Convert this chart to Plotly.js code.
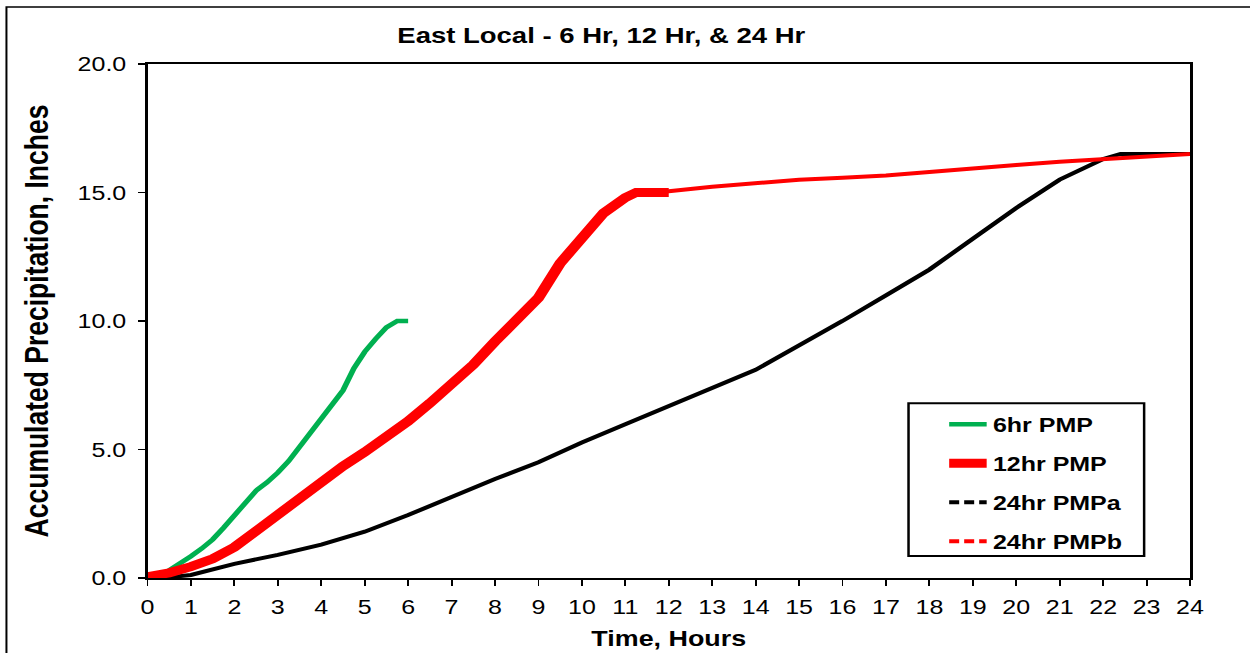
<!DOCTYPE html>
<html>
<head>
<meta charset="utf-8">
<script src="https://cdn.plot.ly/plotly-3.0.1.min.js"></script>
<style>
  html, body { margin: 0; padding: 0; background: #fff; overflow: hidden; }
  #chart { width: 1000px; height: 653px; transform: scaleX(1.25); transform-origin: 0 0; }
</style>
</head>
<body>
<div id="chart"></div>
<script>
// ---- Data ----
const hours6hr = [0,0.25,0.5,0.75,1,1.25,1.5,1.75,2,2.25,2.5,2.75,3,3.25,3.5,3.75,4,4.25,4.5,4.75,5,5.25,5.5,5.75,6];
const pmp6hr   = [0,0.08,0.3,0.55,0.85,1.15,1.5,1.95,2.45,2.95,3.4,3.72,4.1,4.55,5.1,5.6,6.2,6.7,7.3,8.15,8.8,9.3,9.75,10.0,10.0];

const hours12hr = [0,0.5,1,1.5,2,2.5,3,3.5,4,4.5,5,5.5,6,6.5,7,7.5,8,8.5,9,9.5,10,10.5,11,11.25,11.5,12];
const pmp12hr   = [0.05,0.2,0.44,0.75,1.2,1.85,2.5,3.15,3.8,4.35,4.9,5.45,6.1,6.8,7.55,8.3,9.2,10.0,10.9,12.25,13.2,14.2,14.8,15.0,15.0,15.0];

const hours24a = [0,0.5,1,2,3,4,5,6,7,8,9,10,11,12,13,14,15,16,17,18,19,20,21,22,22.4,23,24];
const pmp24a   = [0,0.03,0.12,0.55,0.9,1.3,1.8,2.45,3.15,3.85,4.5,5.27,5.98,6.7,7.4,8.1,9.05,10.0,11.0,12.0,13.2,14.4,15.5,16.3,16.5,16.5,16.5];

const hours24b = [0,0.5,1,1.5,2,2.5,3,3.5,4,4.5,5,5.5,6,6.5,7,7.5,8,8.5,9,9.5,10,10.5,11,11.25,11.5,12,13,14,15,16,17,18,19,20,21,22,23,24];
const pmp24b   = [0.05,0.2,0.44,0.75,1.2,1.85,2.5,3.15,3.8,4.35,4.9,5.45,6.1,6.8,7.55,8.3,9.2,10.0,10.9,12.25,13.2,14.2,14.8,15.0,15.0,15.05,15.22,15.37,15.5,15.57,15.66,15.8,15.95,16.07,16.2,16.3,16.42,16.5];

const seriesNames = ['6hr PMP', '12hr PMP', '24hr PMPa', '24hr PMPb'];
const xTickVals = [0,1,2,3,4,5,6,7,8,9,10,11,12,13,14,15,16,17,18,19,20,21,22,23,24];

const GREEN = '#00B050', RED = '#FF0000', BLACK = '#000000';
const FONT = 'Liberation Sans, Arial, sans-serif';

const traces = [
  // plotted series (drawn solid, as they appear in the reference plot)
  {x: hours24a, y: pmp24a, mode: 'lines', line: {color: BLACK, width: 4}, showlegend: false, hoverinfo: 'skip'},
  {x: hours6hr, y: pmp6hr, mode: 'lines', line: {color: GREEN, width: 4.5}, showlegend: false, hoverinfo: 'skip'},
  {x: hours24b, y: pmp24b, mode: 'lines', line: {color: RED, width: 4}, showlegend: false, hoverinfo: 'skip'},
  {x: hours12hr, y: pmp12hr, mode: 'lines', line: {color: RED, width: 9}, showlegend: false, hoverinfo: 'skip'},
  // legend entries
  {x: [null], y: [null], mode: 'lines', name: seriesNames[0], legendgroup: 'a', line: {color: GREEN, width: 4.5}},
  {x: [null], y: [null], mode: 'lines', name: seriesNames[1], legendgroup: 'b', line: {color: RED, width: 9}},
  {x: [null], y: [null], mode: 'lines', name: seriesNames[2], legendgroup: 'c', line: {color: BLACK, width: 4, dash: '8px,4px'}},
  {x: [null], y: [null], mode: 'lines', name: seriesNames[3], legendgroup: 'd', line: {color: RED, width: 4, dash: '8px,4px'}}
];

const layout = {
  width: 1000, height: 653,
  margin: {l: 118.4, r: 48, t: 64, b: 75},
  paper_bgcolor: '#ffffff', plot_bgcolor: '#ffffff',
  font: {family: FONT, color: '#000'},
  title: {text: 'East Local - 6 Hr, 12 Hr, & 24 Hr', font: {family: FONT, size: 22, weight: 'bold', color: '#000'},
          xref: 'container', x: 0.481, xanchor: 'center', yref: 'container', y: 1 - 35/653, yanchor: 'middle'},
  xaxis: {
    range: [0, 24], tickvals: xTickVals, ticktext: xTickVals.map(String),
    showgrid: false, zeroline: false, showline: true, mirror: true, linecolor: '#000', linewidth: 2,
    ticks: 'outside', ticklen: 6, tickwidth: 1.5, tickcolor: '#000',
    tickfont: {family: FONT, size: 20, color: '#000'}, ticklabelstandoff: 4,
    title: {text: 'Time, Hours', font: {family: FONT, size: 21.5, weight: 'bold', color: '#000'}, standoff: 14},
    fixedrange: true
  },
  yaxis: {
    range: [0, 20], dtick: 5, tick0: 0, tickformat: '.1f',
    showgrid: false, zeroline: false, showline: true, mirror: true, linecolor: '#000', linewidth: 2,
    ticks: 'outside', ticklen: 6, tickwidth: 1.5, tickcolor: '#000',
    tickfont: {family: FONT, size: 20, color: '#000'}, ticklabelstandoff: 5,
    title: {text: 'Accumulated Precipitation, Inches', font: {family: FONT, size: 26.5, weight: 'bold', color: '#000'}, standoff: 15},
    fixedrange: true
  },
  legend: {
    x: 0.763, y: 0.337, xanchor: 'left', yanchor: 'top',
    bgcolor: 'rgba(0,0,0,0)', borderwidth: 0,
    font: {family: FONT, size: 20, weight: 'bold', color: '#000'},
    traceorder: 'grouped', tracegroupgap: 10
  },
  shapes: [
    // legend border
    {type: 'rect', xref: 'paper', yref: 'paper', x0: 0.730, x1: 0.956, y0: 0.043, y1: 0.340,
     line: {color: '#000', width: 2}, fillcolor: 'rgba(0,0,0,0)'},
    // outer chart border
    {type: 'rect', xref: 'paper', yref: 'paper', x0: -0.1353, x1: 1.2, y0: -0.3, y1: 1.1109,
     line: {color: '#000', width: 1.6}, fillcolor: 'rgba(0,0,0,0)'}
  ]
};

Plotly.newPlot('chart', traces, layout, {displayModeBar: false, staticPlot: true});
</script>
</body>
</html>
